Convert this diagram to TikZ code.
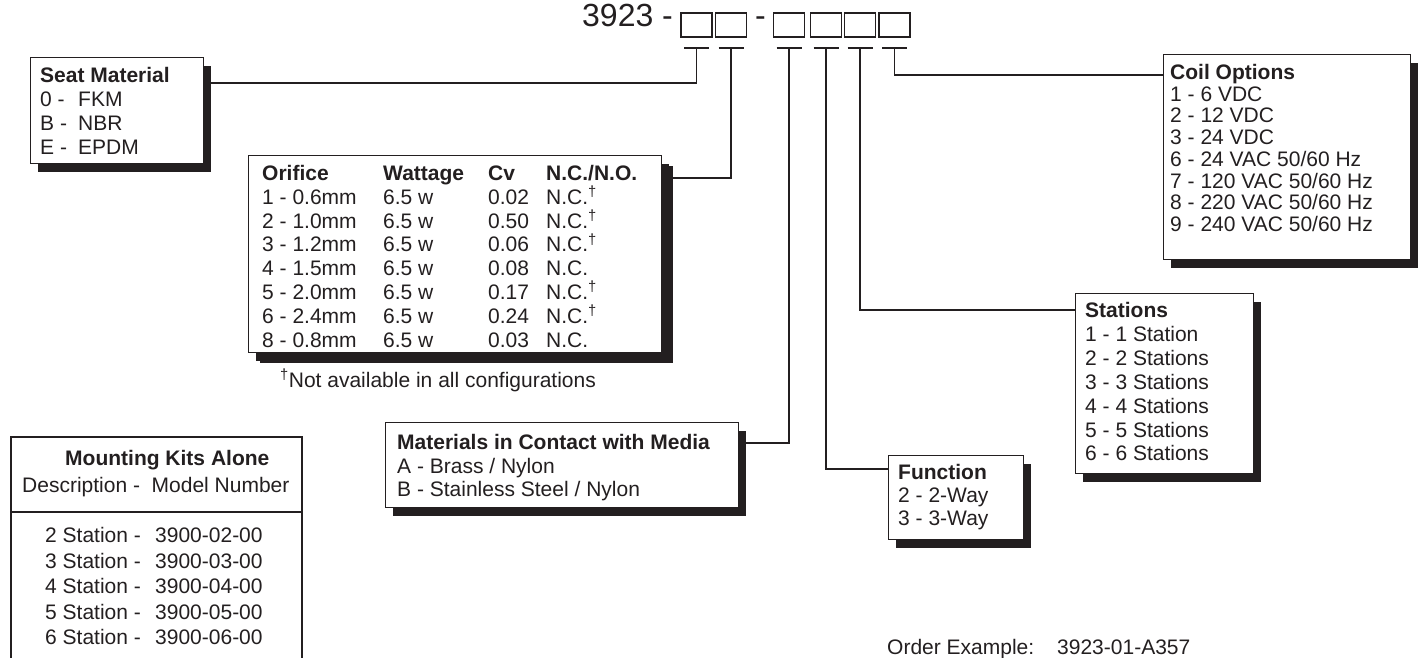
\documentclass[tikz,border=0pt]{standalone}
\usepackage{fontspec}
\setmainfont{Liberation Sans}
\usetikzlibrary{positioning, shadows}
\definecolor{ink}{RGB}{35,31,32}
\newcommand{\ncdag}{\textsuperscript{†}}

\tikzset{
  optbox/.style={draw=ink, line width=0.9pt, fill=white, rectangle, anchor=north west, inner sep=0pt,
    drop shadow={shadow xshift=8pt, shadow yshift=-9pt, opacity=1, fill=ink}},
  digbox/.style={draw=ink, line width=1.6pt, minimum width=31pt, minimum height=24pt, inner sep=0pt},
  conn/.style={draw=ink, line width=1.8pt},
  itemtxt/.style={anchor=base west, inner sep=0pt, text=ink, font=\fontsize{21}{24}\selectfont},
  headtxt/.style={itemtxt, font=\fontsize{21}{24}\selectfont\bfseries},
  bigtxt/.style={anchor=base west, inner sep=0pt, text=ink, font=\fontsize{32}{36}\selectfont},
}

\begin{document}
\begin{tikzpicture}[x=1pt, y=-1pt]
  \useasboundingbox (0,0) rectangle (1419,658);

  % part number with the digit boxes
  \node[bigtxt] (pn) at (582,27) {3923 -};
  \node[bigtxt] (dash) at (755,27) {-};
  \foreach \n/\x in {1/696.5, 2/731, 3/789, 4/826, 5/860, 6/894.5}{
    \node[digbox] (d\n) at (\x,25) {};
    \coordinate (t\n) at ([yshift=-10pt]d\n.south);
    \draw[conn] ([xshift=-12.5pt]t\n) -- ([xshift=12.5pt]t\n);
  }

  % option boxes
  \node[optbox, minimum width=173pt, minimum height=106pt] (seat) at (30,57) {};
  \node[optbox, minimum width=413pt, minimum height=197pt,
        drop shadow={shadow xshift=12pt, shadow yshift=-11pt, opacity=1, fill=ink}] (orif) at (248,155) {};
  \node[optbox, minimum width=247pt, minimum height=205pt] (coil) at (1163,54) {};
  \node[optbox, minimum width=178pt, minimum height=180pt] (stat) at (1075,293) {};
  \node[optbox, minimum width=353pt, minimum height=85pt] (mat) at (385,422) {};
  \node[optbox, minimum width=135pt, minimum height=84pt] (func) at (888,455) {};

  % connectors
  \draw[conn] (t1) |- ([yshift=-26pt]seat.north east);
  \draw[conn] (t2) |- ([yshift=-23pt]orif.north east);
  \draw[conn] (t3) |- ([yshift=-21pt]mat.north east);
  \draw[conn] (t4) |- ([yshift=-14pt]func.north west);
  \draw[conn] (t5) |- ([yshift=-17pt]stat.north west);
  \draw[conn] (t6) |- ([yshift=-21pt]coil.north west);

  % Seat Material
  \node[headtxt] (seath) at (40,82.5) {Seat Material};
  \foreach \k/\v [count=\i] in {0/FKM, B/NBR, E/EPDM}{
    \node[itemtxt] (seatk\i) at (40,{82.5+\i*24}) {\k\ -};
    \node[itemtxt] (seatv\i) at (78,{82.5+\i*24}) {\v};
  }

  % Orifice table
  \node[headtxt] (orh1) at (262,180.5) {Orifice};
  \node[headtxt] (orh2) at (383,180.5) {Wattage};
  \node[headtxt] (orh3) at (488,180.5) {Cv};
  \node[headtxt] (orh4) at (546,180.5) {N.C./N.O.};
  \foreach \o/\c/\t [count=\i] in {1 - 0.6mm/0.02/N.C.\ncdag, 2 - 1.0mm/0.50/N.C.\ncdag,
      3 - 1.2mm/0.06/N.C.\ncdag, 4 - 1.5mm/0.08/N.C., 5 - 2.0mm/0.17/N.C.\ncdag,
      6 - 2.4mm/0.24/N.C.\ncdag, 8 - 0.8mm/0.03/N.C.}{
    \node[itemtxt] (oro\i) at (262,{180.5+\i*23.8}) {\o};
    \node[itemtxt] (orw\i) at (383,{180.5+\i*23.8}) {6.5 w};
    \node[itemtxt] (orc\i) at (488,{180.5+\i*23.8}) {\c};
    \node[itemtxt] (ort\i) at (546,{180.5+\i*23.8}) {\t};
  }
  \node[itemtxt] (note) at (280,387) {\textsuperscript{†}Not available in all configurations};

  % Coil Options
  \node[headtxt] (coilh) at (1170,79.5) {Coil Options};
  \foreach \lab [count=\i] in {{1 - 6 VDC}, {2 - 12 VDC}, {3 - 24 VDC}, {6 - 24 VAC 50/60 Hz},
      {7 - 120 VAC 50/60 Hz}, {8 - 220 VAC 50/60 Hz}, {9 - 240 VAC 50/60 Hz}}{
    \node[itemtxt] (coil\i) at (1170,{79.5+\i*21.7}) {\lab};
  }

  % Stations
  \node[headtxt] (stath) at (1085,317.5) {Stations};
  \foreach \n [count=\i] in {1,...,6}{
    \node[itemtxt] (stat\i) at (1085,{317.5+\i*23.9}) {\n\ - \n\ Station\ifnum\n>1 s\fi};
  }

  % Materials in Contact with Media
  \node[headtxt] (math) at (397,449.5) {Materials in Contact with Media};
  \node[itemtxt] (mat1) at (397,473) {A - Brass / Nylon};
  \node[itemtxt] (mat2) at (397,496.5) {B - Stainless Steel / Nylon};

  % Function
  \node[headtxt] (funch) at (898,479.5) {Function};
  \node[itemtxt] (func1) at (898,502.5) {2 - 2-Way};
  \node[itemtxt] (func2) at (898,525.5) {3 - 3-Way};

  % Mounting Kits Alone
  \draw[ink, line width=1.8pt] (11,658) -- (11,437) -- (302,437) -- (302,658);
  \draw[ink, line width=1.8pt] (11,512) -- (302,512);
  \node[headtxt] (kith) at (65,465.5) {Mounting Kits Alone};
  \node[itemtxt] (kitd) at (22,492.5) {Description -\ \ Model Number};
  \foreach \n [count=\i from 0] in {2,...,6}{
    \node[itemtxt] (kitn\n) at (45,{542.5+\i*25.5}) {\n\ Station -};
    \node[itemtxt] (kitm\n) at (155,{542.5+\i*25.5}) {3900-0\n-00};
  }

  % order example
  \node[itemtxt] (ordl) at (887,654.5) {Order Example:};
  \node[itemtxt] (ordn) at (1057,654.5) {3923-01-A357};
\end{tikzpicture}
\end{document}
